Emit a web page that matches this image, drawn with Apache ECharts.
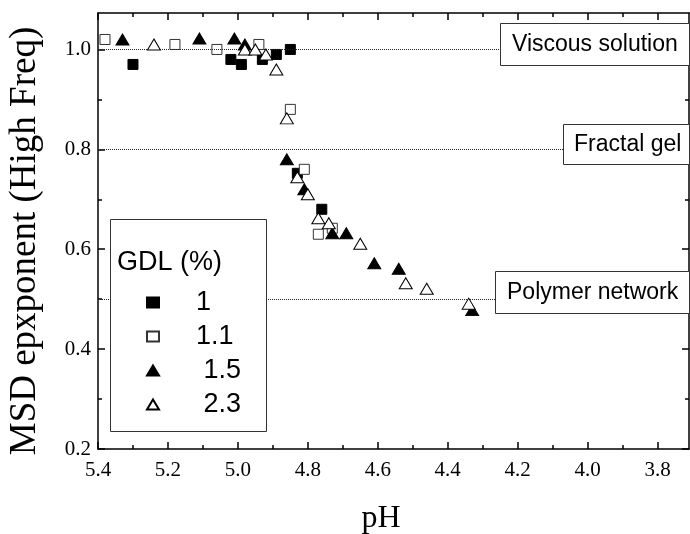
<!DOCTYPE html>
<html>
<head>
<meta charset="utf-8">
<script src="https://cdn.jsdelivr.net/npm/echarts@6/dist/echarts.min.js"></script>
<style>html,body{margin:0;padding:0;background:#fff;}#c{width:690px;height:534px;}</style>
</head>
<body>
<div id="c"></div>
<script>
// GDL 1 %
const ph_1  = [5.30, 5.02, 4.99, 4.93, 4.89, 4.85, 4.83, 4.76];
const msd_1 = [0.97, 0.98, 0.97, 0.98, 0.99, 1.00, 0.752, 0.68];
// GDL 1.1 %
const ph_11  = [5.38, 5.18, 5.06, 4.94, 4.85, 4.81, 4.77, 4.73];
const msd_11 = [1.02, 1.01, 1.00, 1.01, 0.88, 0.76, 0.63, 0.642];
// GDL 1.5 %
const ph_15  = [5.33, 5.11, 5.01, 4.98, 4.86, 4.81, 4.73, 4.69, 4.61, 4.54, 4.33];
const msd_15 = [1.02, 1.022, 1.022, 1.01, 0.78, 0.72, 0.632, 0.632, 0.572, 0.561, 0.478];
// GDL 2.3 %
const ph_23  = [5.24, 4.98, 4.95, 4.92, 4.89, 4.86, 4.83, 4.80, 4.77, 4.74, 4.65, 4.52, 4.46, 4.34];
const msd_23 = [1.01, 1.00, 1.00, 0.99, 0.96, 0.862, 0.744, 0.71, 0.662, 0.652, 0.611, 0.532, 0.521, 0.491];

const seriesNames = ['1', '1.1', '1.5', '2.3'];
const xMajor = [5.4, 5.2, 5.0, 4.8, 4.6, 4.4, 4.2, 4.0, 3.8];
const xMinor = [5.3, 5.1, 4.9, 4.7, 4.5, 4.3, 4.1, 3.9];
const yMajor = [0.2, 0.4, 0.6, 0.8, 1.0];
const yMinor = [0.3, 0.5, 0.7, 0.9];
const refLevels = [1.0, 0.8, 0.5];
const refLabels = ['Viscous solution', 'Fractal gel', 'Polymer network'];
const xTitle = 'pH';
const yTitle = 'MSD epxponent (High Freq)';
const legendTitle = 'GDL (%)';

const X_MIN = 3.71, X_MAX = 5.4, Y_MIN = 0.2, Y_MAX = 1.073;

function zip(a, b) { return a.map((v, i) => [v, b[i]]); }

const chart = echarts.init(document.getElementById('c'), null, {renderer: 'canvas'});

const serif = 'Liberation Serif';
const sans = 'Liberation Sans';

function xAx(pos, vals, len, labels, line) {
  return {
    type: 'value', position: pos, inverse: true, min: X_MIN, max: X_MAX,
    axisLine: {show: line, onZero: false, lineStyle: {color: '#000', width: 1.5}},
    axisTick: {show: true, inside: true, length: len, customValues: vals, lineStyle: {color: '#000', width: 1.5}},
    axisLabel: labels ? {show: true, customValues: vals, formatter: v => Number(v).toFixed(1),
      fontFamily: serif, fontSize: 21, color: '#000', margin: 11} : {show: false},
    splitLine: {show: false}
  };
}
function yAx(pos, vals, len, labels, line) {
  return {
    type: 'value', position: pos, min: Y_MIN, max: Y_MAX,
    axisLine: {show: line, onZero: false, lineStyle: {color: '#000', width: 1.5}},
    axisTick: {show: true, inside: true, length: len, customValues: vals, lineStyle: {color: '#000', width: 1.5}},
    axisLabel: labels ? {show: true, customValues: vals, formatter: v => Number(v).toFixed(1),
      fontFamily: serif, fontSize: 21, color: '#000', margin: 7} : {show: false},
    splitLine: {show: false}
  };
}

const xAxes = [
  xAx('bottom', xMajor, 7, true, true),
  xAx('bottom', xMinor, 4, false, false),
  xAx('top', xMajor, 7, false, true),
  xAx('top', xMinor, 4, false, false)
];
const yAxes = [
  yAx('left', yMajor, 7, true, true),
  yAx('left', yMinor, 4, false, false),
  yAx('right', yMajor, 7, false, true),
  yAx('right', yMinor, 4, false, false)
];

const markers = [
  {symbol: 'rect', size: 10, color: '#000', border: '#000'},
  {symbol: 'rect', size: 10, color: '#fff', border: '#333'},
  {symbol: 'triangle', size: [13, 11], color: '#000', border: '#000'},
  {symbol: 'triangle', size: [13, 11], color: '#fff', border: '#000'}
];
const datasets = [zip(ph_1, msd_1), zip(ph_11, msd_11), zip(ph_15, msd_15), zip(ph_23, msd_23)];

const series = datasets.map((d, i) => ({
  name: seriesNames[i], type: 'scatter', data: d,
  xAxisIndex: 0, yAxisIndex: 0,
  symbol: markers[i].symbol, symbolSize: markers[i].size,
  itemStyle: {color: markers[i].color, borderColor: markers[i].border, borderWidth: 1, opacity: 1},
  z: 3 + i
}));
series.unshift({
  type: 'scatter', data: [], xAxisIndex: 0, yAxisIndex: 0, silent: true, z: 1,
  markLine: {
    silent: true, symbol: 'none', animation: false,
    label: {show: false},
    lineStyle: {color: '#222', width: 1, type: [1, 1]},
    data: refLevels.map(v => ({yAxis: v}))
  }
});

const legendPad = {'1': '', '1.1': '', '1.5': ' ', '2.3': ' '};

chart.setOption({
  animation: false,
  backgroundColor: '#fff',
  grid: {left: 98, right: 1, top: 13, bottom: 85, containLabel: false},
  xAxis: xAxes,
  yAxis: yAxes,
  legend: {
    show: true, orient: 'vertical', left: 141, top: 284,
    itemWidth: 12, itemHeight: 10, itemGap: 7,
    data: seriesNames,
    formatter: n => legendPad[n] + n,
    textStyle: {fontFamily: sans, fontSize: 27, color: '#000', lineHeight: 27, padding: [0, 0, 0, 32]},
    z: 20
  },
  graphic: [
    {type: 'text', z: 11, x: 25, y: 241, rotation: Math.PI / 2,
      style: {text: yTitle, font: '37px "Liberation Serif"', fill: '#000', align: 'center', verticalAlign: 'middle'}},
    {type: 'text', z: 11, x: 381, y: 519,
      style: {text: xTitle, font: '32px "Liberation Serif"', fill: '#000', align: 'center', verticalAlign: 'middle'}},
    {type: 'rect', z: 10, shape: {x: 110.5, y: 219.5, width: 156, height: 212},
      style: {fill: '#fff', stroke: '#333', lineWidth: 1}},
    {type: 'text', z: 11, x: 117, y: 263,
      style: {text: legendTitle, font: '27px "Liberation Sans"', fill: '#000', verticalAlign: 'middle'}},
    {type: 'rect', z: 10, shape: {x: 500.5, y: 23.5, width: 189, height: 42},
      style: {fill: '#fff', stroke: '#333', lineWidth: 1}},
    {type: 'text', z: 11, x: 512, y: 45,
      style: {text: refLabels[0], font: '23px "Liberation Sans"', fill: '#000', verticalAlign: 'middle'}},
    {type: 'rect', z: 10, shape: {x: 563.5, y: 124.5, width: 126, height: 40},
      style: {fill: '#fff', stroke: '#333', lineWidth: 1}},
    {type: 'text', z: 11, x: 574, y: 145,
      style: {text: refLabels[1], font: '23px "Liberation Sans"', fill: '#000', verticalAlign: 'middle'}},
    {type: 'rect', z: 10, shape: {x: 495.5, y: 271.5, width: 194, height: 42},
      style: {fill: '#fff', stroke: '#333', lineWidth: 1}},
    {type: 'text', z: 11, x: 507, y: 293,
      style: {text: refLabels[2], font: '23px "Liberation Sans"', fill: '#000', verticalAlign: 'middle'}}
  ],
  series: series
});
</script>
</body>
</html>
